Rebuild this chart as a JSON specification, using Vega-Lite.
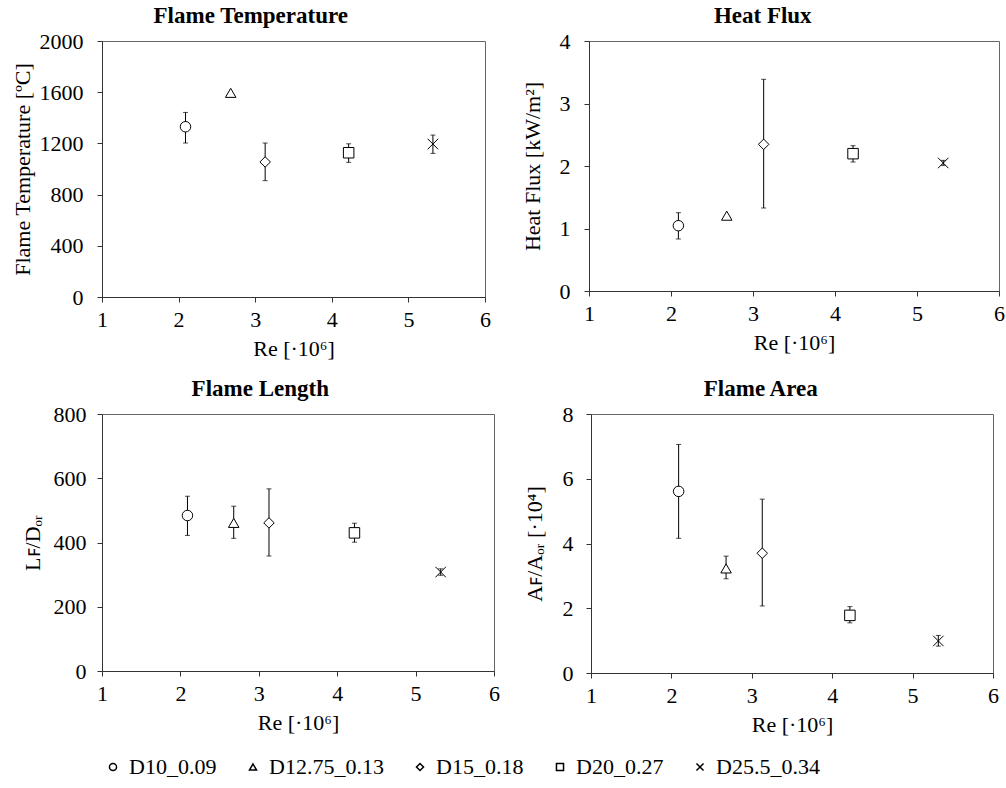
{
  "$schema": "https://vega.github.io/schema/vega-lite/v6.json",
  "padding": {"left": 10, "top": 4, "right": 2, "bottom": 2},
  "background": "white",
  "datasets": {
    "d": [
      {"panel": "T", "series": "D10_0.09", "re": 2.09, "v": 1330, "lo": 1203, "hi": 1442},
      {"panel": "T", "series": "D12.75_0.13", "re": 2.68, "v": 1595, "lo": null, "hi": null},
      {"panel": "T", "series": "D15_0.18", "re": 3.13, "v": 1055, "lo": 909, "hi": 1203},
      {"panel": "T", "series": "D20_0.27", "re": 4.22, "v": 1127, "lo": 1052, "hi": 1197},
      {"panel": "T", "series": "D25.5_0.34", "re": 5.32, "v": 1195, "lo": 1122, "hi": 1265},
      {"panel": "H", "series": "D10_0.09", "re": 2.09, "v": 1.045, "lo": 0.832, "hi": 1.253},
      {"panel": "H", "series": "D12.75_0.13", "re": 2.68, "v": 1.205, "lo": null, "hi": null},
      {"panel": "H", "series": "D15_0.18", "re": 3.13, "v": 2.347, "lo": 1.328, "hi": 3.387},
      {"panel": "H", "series": "D20_0.27", "re": 4.22, "v": 2.197, "lo": 2.064, "hi": 2.325},
      {"panel": "H", "series": "D25.5_0.34", "re": 5.32, "v": 2.048, "lo": 2.01, "hi": 2.09},
      {"panel": "L", "series": "D10_0.09", "re": 2.09, "v": 484, "lo": 422, "hi": 544},
      {"panel": "L", "series": "D12.75_0.13", "re": 2.68, "v": 461, "lo": 413, "hi": 513},
      {"panel": "L", "series": "D15_0.18", "re": 3.13, "v": 461, "lo": 358, "hi": 567},
      {"panel": "L", "series": "D20_0.27", "re": 4.22, "v": 430, "lo": 401, "hi": 460},
      {"panel": "L", "series": "D25.5_0.34", "re": 5.32, "v": 308, "lo": 298, "hi": 318},
      {"panel": "A", "series": "D10_0.09", "re": 2.09, "v": 5.61, "lo": 4.16, "hi": 7.06},
      {"panel": "A", "series": "D12.75_0.13", "re": 2.68, "v": 3.23, "lo": 2.91, "hi": 3.61},
      {"panel": "A", "series": "D15_0.18", "re": 3.13, "v": 3.70, "lo": 2.07, "hi": 5.37},
      {"panel": "A", "series": "D20_0.27", "re": 4.22, "v": 1.78, "lo": 1.55, "hi": 2.05},
      {"panel": "A", "series": "D25.5_0.34", "re": 5.32, "v": 0.99, "lo": 0.83, "hi": 1.16}
    ]
  },
  "data": {"name": "d"},
  "config": {
    "font": "Liberation Serif",
    "view": {"stroke": "#666666", "strokeWidth": 1},
    "axis": {
      "labelFont": "Liberation Serif", "labelFontSize": 22, "labelColor": "black",
      "titleFont": "Liberation Serif", "titleFontSize": 22, "titleFontWeight": "normal", "titleColor": "black",
      "domainColor": "#333333", "tickColor": "#333333", "tickSize": 5, "grid": false,
      "labelFlush": false, "labelOverlap": false, "format": "d"
    },
    "axisX": {"labelPadding": 7, "titlePadding": 8},
    "title": {"font": "Liberation Serif", "fontSize": 23, "fontWeight": "bold", "color": "black", "offset": 2, "anchor": "middle", "frame": "bounds"},
    "legend": {
      "orient": "bottom", "direction": "horizontal",
      "labelFont": "Liberation Serif", "labelFontSize": 22, "labelColor": "black",
      "symbolSize": 50, "labelOffset": 5,
      "columnPadding": 25, "offset": 20
    }
  },
  "align": "none",
  "center": false,
  "resolve": {"scale": {"shape": "shared"}, "legend": {"shape": "shared"}},
  "spacing": 17,
  "vconcat": [
    {
      "spacing": 29,
      "hconcat": [
        {
          "title": "Flame Temperature",
          "width": 383, "height": 256,
          "transform": [{"filter": "datum.panel === 'T'"}],
          "layer": [
            {
              "transform": [{"filter": "isValid(datum.lo)"}],
              "mark": {"type": "errorbar", "ticks": {"size": 5, "color": "black"}, "rule": {"color": "black", "strokeWidth": 1}},
              "encoding": {
                "x": {"field": "re", "type": "quantitative", "scale": {"domain": [1, 6]}, "axis": {"title": "Re [·10⁶]", "values": [1, 2, 3, 4, 5, 6]}},
                "y": {"field": "lo", "type": "quantitative", "scale": {"domain": [0, 2000]}, "axis": {"title": "Flame Temperature [ºC]", "values": [0, 400, 800, 1200, 1600, 2000], "labelPadding": 14, "titlePadding": 5}},
                "y2": {"field": "hi"}
              }
            },
            {
              "mark": {"type": "point", "filled": true, "fill": "white", "stroke": "black", "strokeWidth": 1, "size": 110, "opacity": 1},
              "encoding": {
                "x": {"field": "re", "type": "quantitative", "scale": {"domain": [1, 6]}, "axis": {"title": "Re [·10⁶]", "values": [1, 2, 3, 4, 5, 6]}},
                "y": {"field": "v", "type": "quantitative", "scale": {"domain": [0, 2000]}, "axis": {"title": "Flame Temperature [ºC]", "values": [0, 400, 800, 1200, 1600, 2000], "labelPadding": 14, "titlePadding": 5}},
                "shape": {"field": "series", "type": "nominal", "title": null, "scale": {"domain": ["D10_0.09", "D12.75_0.13", "D15_0.18", "D20_0.27", "D25.5_0.34"], "range": ["circle", "triangle-up", "diamond", "square", "M-1,-1L1,1M1,-1L-1,1"]}}
              }
            }
          ]
        },
        {
          "title": "Heat Flux",
          "width": 410, "height": 250,
          "transform": [{"filter": "datum.panel === 'H'"}],
          "layer": [
            {
              "transform": [{"filter": "isValid(datum.lo)"}],
              "mark": {"type": "errorbar", "ticks": {"size": 5, "color": "black"}, "rule": {"color": "black", "strokeWidth": 1}},
              "encoding": {
                "x": {"field": "re", "type": "quantitative", "scale": {"domain": [1, 6]}, "axis": {"title": "Re [·10⁶]", "values": [1, 2, 3, 4, 5, 6]}},
                "y": {"field": "lo", "type": "quantitative", "scale": {"domain": [0, 4]}, "axis": {"title": "Heat Flux [kW/m²]", "values": [0, 1, 2, 3, 4], "labelPadding": 14, "titlePadding": 15}},
                "y2": {"field": "hi"}
              }
            },
            {
              "mark": {"type": "point", "filled": true, "fill": "white", "stroke": "black", "strokeWidth": 1, "size": 110, "opacity": 1},
              "encoding": {
                "x": {"field": "re", "type": "quantitative", "scale": {"domain": [1, 6]}, "axis": {"title": "Re [·10⁶]", "values": [1, 2, 3, 4, 5, 6]}},
                "y": {"field": "v", "type": "quantitative", "scale": {"domain": [0, 4]}, "axis": {"title": "Heat Flux [kW/m²]", "values": [0, 1, 2, 3, 4], "labelPadding": 14, "titlePadding": 15}},
                "shape": {"field": "series", "type": "nominal", "title": null, "scale": {"domain": ["D10_0.09", "D12.75_0.13", "D15_0.18", "D20_0.27", "D25.5_0.34"], "range": ["circle", "triangle-up", "diamond", "square", "M-1,-1L1,1M1,-1L-1,1"]}}
              }
            }
          ]
        }
      ]
    },
    {
      "spacing": 22,
      "hconcat": [
        {
          "title": "Flame Length",
          "width": 392, "height": 257,
          "transform": [{"filter": "datum.panel === 'L'"}],
          "layer": [
            {
              "transform": [{"filter": "isValid(datum.lo)"}],
              "mark": {"type": "errorbar", "ticks": {"size": 5, "color": "black"}, "rule": {"color": "black", "strokeWidth": 1}},
              "encoding": {
                "x": {"field": "re", "type": "quantitative", "scale": {"domain": [1, 6]}, "axis": {"title": "Re [·10⁶]", "values": [1, 2, 3, 4, 5, 6]}},
                "y": {"field": "lo", "type": "quantitative", "scale": {"domain": [0, 800]}, "axis": {"title": "Lꜰ/Dₒᵣ", "values": [0, 200, 400, 600, 800], "labelPadding": 11, "titlePadding": 9}},
                "y2": {"field": "hi"}
              }
            },
            {
              "mark": {"type": "point", "filled": true, "fill": "white", "stroke": "black", "strokeWidth": 1, "size": 110, "opacity": 1},
              "encoding": {
                "x": {"field": "re", "type": "quantitative", "scale": {"domain": [1, 6]}, "axis": {"title": "Re [·10⁶]", "values": [1, 2, 3, 4, 5, 6]}},
                "y": {"field": "v", "type": "quantitative", "scale": {"domain": [0, 800]}, "axis": {"title": "Lꜰ/Dₒᵣ", "values": [0, 200, 400, 600, 800], "labelPadding": 11, "titlePadding": 9}},
                "shape": {"field": "series", "type": "nominal", "title": null, "scale": {"domain": ["D10_0.09", "D12.75_0.13", "D15_0.18", "D20_0.27", "D25.5_0.34"], "range": ["circle", "triangle-up", "diamond", "square", "M-1,-1L1,1M1,-1L-1,1"]}}
              }
            }
          ]
        },
        {
          "title": "Flame Area",
          "width": 402, "height": 259,
          "transform": [{"filter": "datum.panel === 'A'"}],
          "layer": [
            {
              "transform": [{"filter": "isValid(datum.lo)"}],
              "mark": {"type": "errorbar", "ticks": {"size": 5, "color": "black"}, "rule": {"color": "black", "strokeWidth": 1}},
              "encoding": {
                "x": {"field": "re", "type": "quantitative", "scale": {"domain": [1, 6]}, "axis": {"title": "Re [·10⁶]", "values": [1, 2, 3, 4, 5, 6]}},
                "y": {"field": "lo", "type": "quantitative", "scale": {"domain": [0, 8]}, "axis": {"title": "Aꜰ/Aₒᵣ [·10⁴]", "values": [0, 2, 4, 6, 8], "labelPadding": 13, "titlePadding": 16}},
                "y2": {"field": "hi"}
              }
            },
            {
              "mark": {"type": "point", "filled": true, "fill": "white", "stroke": "black", "strokeWidth": 1, "size": 110, "opacity": 1},
              "encoding": {
                "x": {"field": "re", "type": "quantitative", "scale": {"domain": [1, 6]}, "axis": {"title": "Re [·10⁶]", "values": [1, 2, 3, 4, 5, 6]}},
                "y": {"field": "v", "type": "quantitative", "scale": {"domain": [0, 8]}, "axis": {"title": "Aꜰ/Aₒᵣ [·10⁴]", "values": [0, 2, 4, 6, 8], "labelPadding": 13, "titlePadding": 16}},
                "shape": {"field": "series", "type": "nominal", "title": null, "scale": {"domain": ["D10_0.09", "D12.75_0.13", "D15_0.18", "D20_0.27", "D25.5_0.34"], "range": ["circle", "triangle-up", "diamond", "square", "M-1,-1L1,1M1,-1L-1,1"]}}
              }
            }
          ]
        }
      ]
    }
  ]
}
